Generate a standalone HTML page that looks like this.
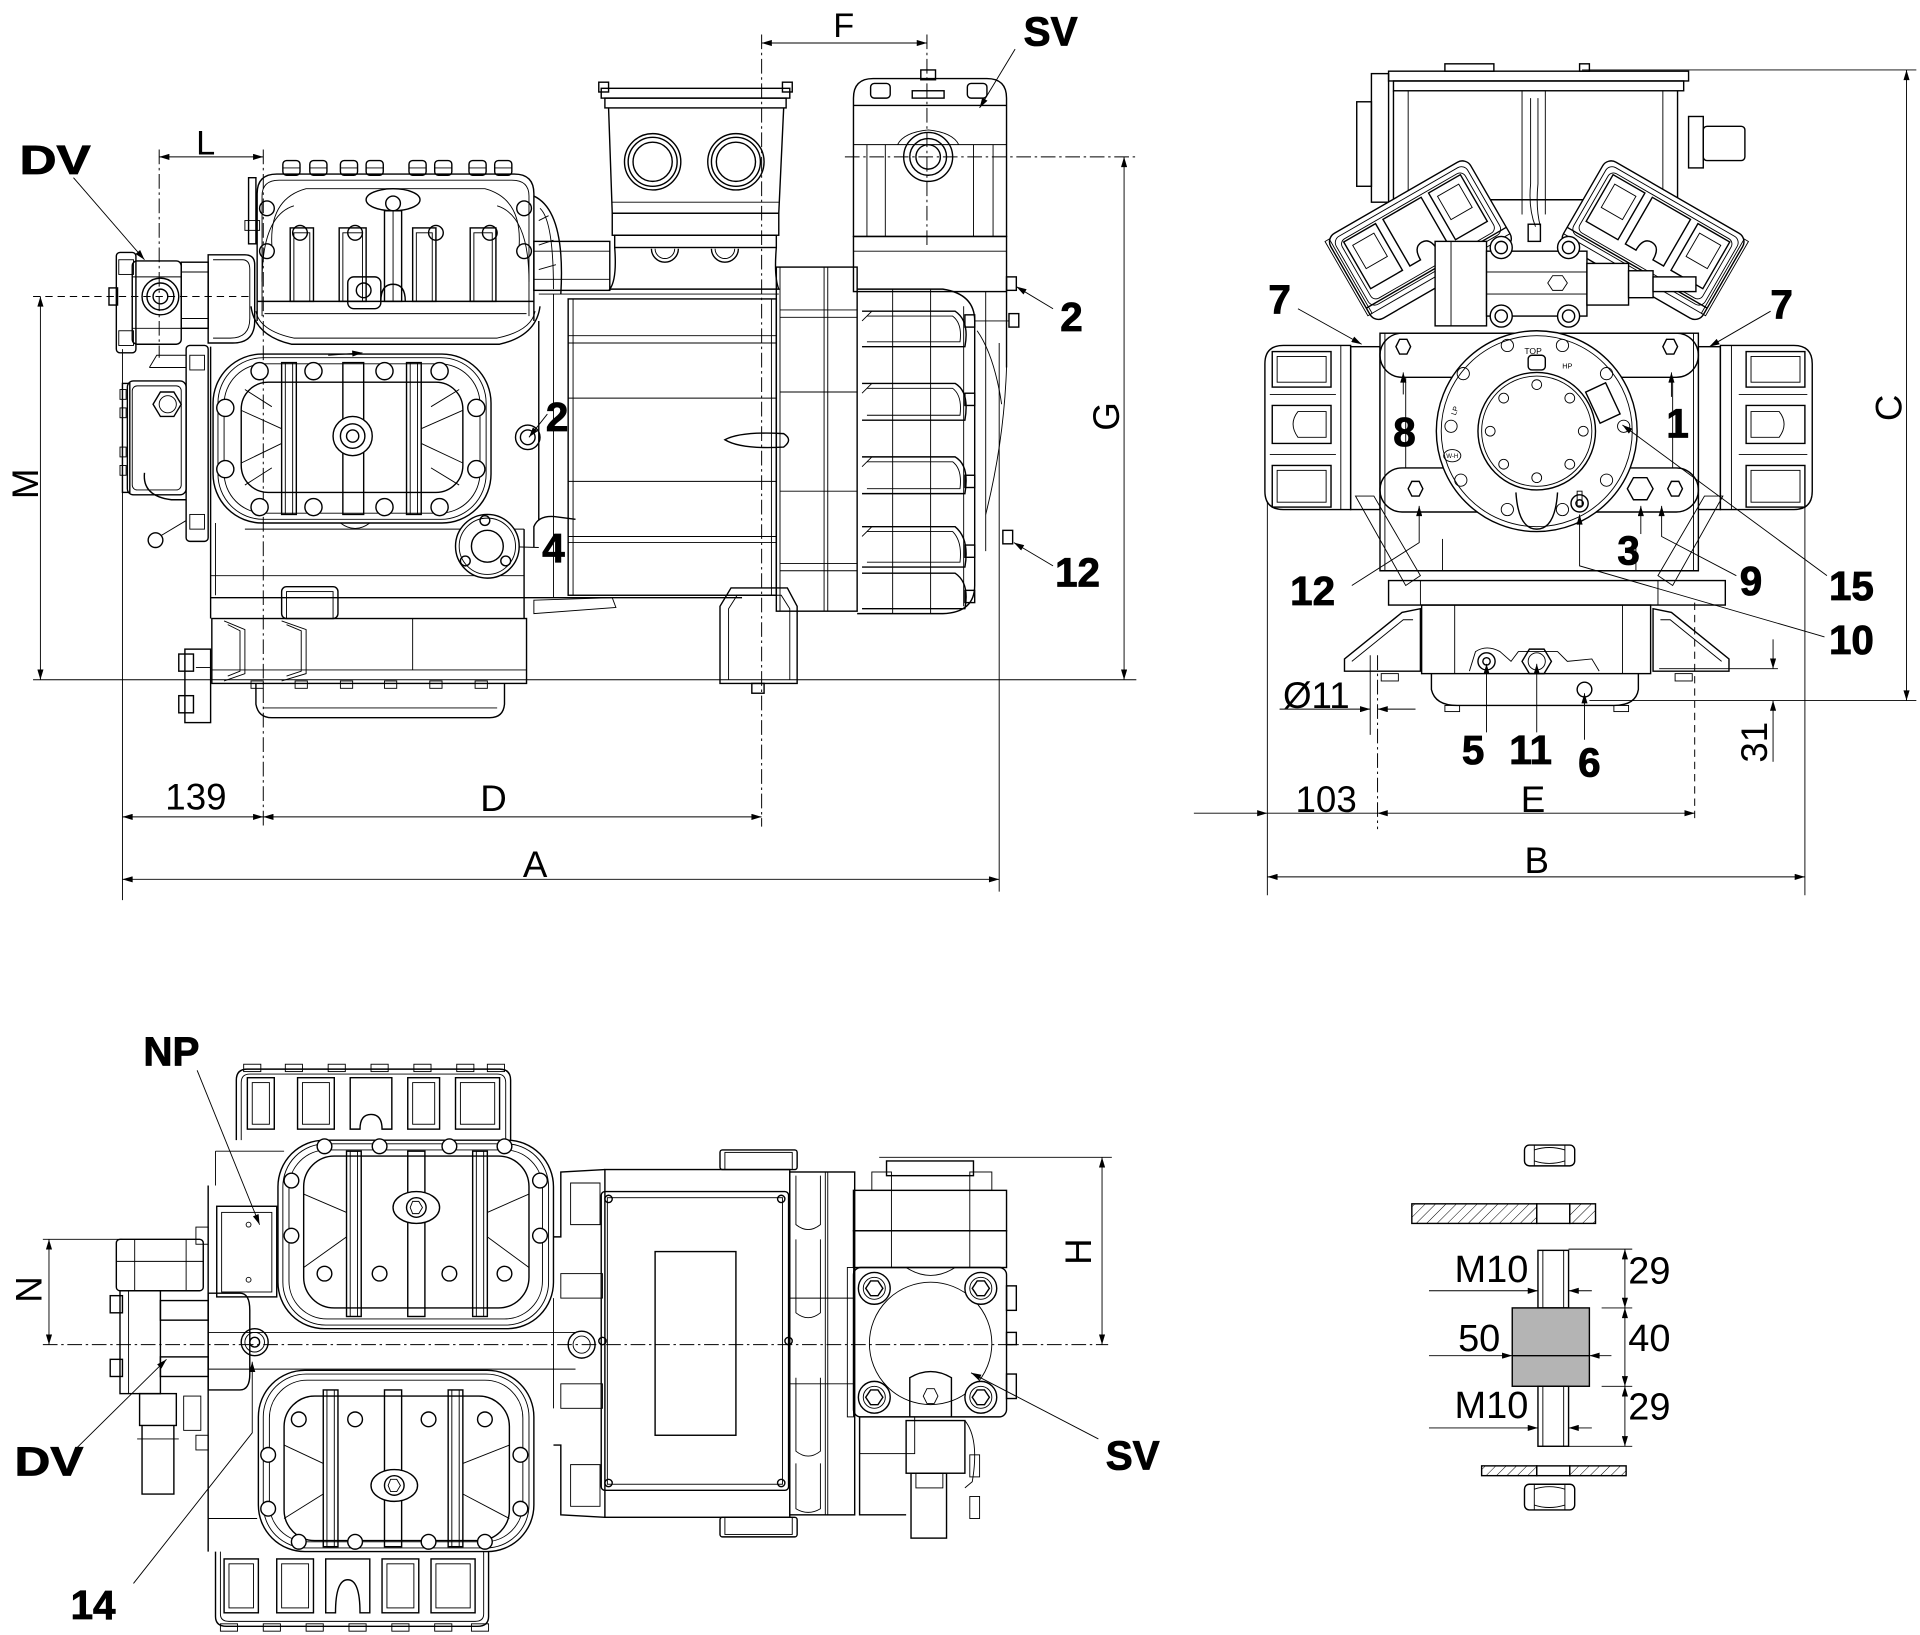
<!DOCTYPE html>
<html><head><meta charset="utf-8">
<style>
html,body{margin:0;padding:0;background:#fff;}
svg{display:block;}
.lb{font-family:"Liberation Sans",Arial,sans-serif;font-weight:bold;font-size:33px;fill:#000;stroke:#000;stroke-width:0.7;text-anchor:middle;}
.dm{font-family:"Liberation Sans",Arial,sans-serif;font-size:30px;fill:#000;stroke:none;text-anchor:middle;}
.tn{font-family:"Liberation Sans",Arial,sans-serif;font-size:7px;fill:#000;stroke:none;text-anchor:middle;}
.t{stroke-width:0.75;}
.dd{stroke-dasharray:12 3 2 3;stroke-width:0.8;}
.ds{stroke-dasharray:6 4;stroke-width:0.8;}
.w{fill:#fff;}
</style></head><body>
<svg width="1920" height="1635" viewBox="0 0 1568 1335" xmlns="http://www.w3.org/2000/svg">
<defs>
<marker id="ar" viewBox="0 0 10 6" refX="10" refY="3" markerWidth="10" markerHeight="5" orient="auto-start-reverse" markerUnits="userSpaceOnUse"><path d="M0,0L10,3L0,6z" fill="#000" stroke="none"/></marker>
<pattern id="h" width="6" height="6" patternUnits="userSpaceOnUse" patternTransform="rotate(45)"><line x1="0" y1="0" x2="0" y2="6" stroke="#000" stroke-width="0.8"/></pattern>
</defs>
<rect width="1568" height="1335" fill="#fff"/>

<g fill="none" stroke="#000" stroke-width="1.15">

<!-- ================= SIDE VIEW ================= -->
<line x1="27" y1="555" x2="928" y2="555" class="t"/>
<line x1="27" y1="242" x2="205" y2="242" class="ds"/>
<line x1="690" y1="128" x2="930" y2="128" class="dd"/>
<line x1="33" y1="242" x2="33" y2="555" marker-start="url(#ar)" marker-end="url(#ar)" class="t"/>
<line x1="918" y1="128" x2="918" y2="555" marker-start="url(#ar)" marker-end="url(#ar)" class="t"/>
<line x1="130" y1="122" x2="130" y2="292" class="dd"/>
<line x1="215" y1="122" x2="215" y2="675" class="dd"/>
<line x1="622" y1="28" x2="622" y2="675" class="dd"/>
<line x1="757" y1="28" x2="757" y2="200" class="dd"/>
<line x1="100" y1="285" x2="100" y2="735" class="t"/>
<line x1="816" y1="280" x2="816" y2="728" class="t"/>
<line x1="130" y1="128" x2="215" y2="128" marker-start="url(#ar)" marker-end="url(#ar)" class="t"/>
<line x1="622" y1="35" x2="757" y2="35" marker-start="url(#ar)" marker-end="url(#ar)" class="t"/>
<line x1="100" y1="667" x2="215" y2="667" marker-start="url(#ar)" marker-end="url(#ar)" class="t"/>
<line x1="215" y1="667" x2="622" y2="667" marker-start="url(#ar)" marker-end="url(#ar)" class="t"/>
<line x1="100" y1="718" x2="816" y2="718" marker-start="url(#ar)" marker-end="url(#ar)" class="t"/>
<line x1="60" y1="145" x2="118" y2="212" class="t" marker-end="url(#ar)"/>
<line x1="829" y1="40" x2="800" y2="88" class="t" marker-end="url(#ar)"/>
<line x1="860" y1="252" x2="830" y2="234" class="t" marker-end="url(#ar)"/>
<line x1="447" y1="338" x2="432" y2="357" class="t" marker-end="url(#ar)"/>
<line x1="440" y1="447" x2="405" y2="446" class="t" marker-end="url(#ar)"/>
<line x1="860" y1="462" x2="828" y2="443" class="t" marker-end="url(#ar)"/>

<!-- DV fitting -->
<rect x="95" y="206" width="16" height="82" rx="3"/>
<rect x="89" y="235" width="7" height="14"/>
<rect x="97" y="212" width="12" height="12" class="t"/>
<rect x="97" y="270" width="12" height="12" class="t"/>
<rect x="108" y="213" width="40" height="68" rx="4"/>
<line x1="108" y1="226" x2="148" y2="226" class="t"/><line x1="108" y1="268" x2="148" y2="268" class="t"/>
<circle cx="131" cy="242" r="15"/><circle cx="131" cy="242" r="11"/><circle cx="131" cy="242" r="6"/>
<rect x="148" y="214" width="22" height="54"/>
<line x1="148" y1="222" x2="170" y2="222" class="t"/>
<line x1="148" y1="260" x2="170" y2="260" class="t"/>
<path d="M170 208 L200 208 Q208 208 208 216 L208 262 Q208 280 190 280 L170 280 Z"/>
<path d="M174 212 L198 212 Q204 212 204 220 L204 260 Q204 276 188 276 L174 276" class="t"/>
<rect x="203" y="145" width="6" height="54"/>
<rect x="200" y="180" width="12" height="8" class="t"/>

<!-- upper cylinder head -->
<path d="M210 262 L210 158 Q210 142 226 142 L420 142 Q436 142 436 158 L436 262"/>
<path d="M214 258 L214 160 Q214 147 228 147 L418 147 Q432 147 432 160 L432 258" class="t"/>
<path d="M205 250 Q208 274 238 281 L408 281 Q438 274 441 250"/>
<path d="M209 254 Q212 270 240 276 L406 276 Q434 270 437 254" class="t"/>
<line x1="210" y1="246" x2="436" y2="246"/>
<line x1="216" y1="256" x2="430" y2="256" class="t"/>
<path d="M222 200 Q220 162 250 154 L396 154 Q426 162 424 200" class="t"/>
<path d="M214 230 Q214 176 240 168" class="t"/><path d="M432 230 Q432 176 406 168" class="t"/>
<g>
<rect x="231" y="131" width="14" height="12" rx="3"/><rect x="253" y="131" width="14" height="12" rx="3"/>
<rect x="278" y="131" width="14" height="12" rx="3"/><rect x="299" y="131" width="14" height="12" rx="3"/>
<rect x="334" y="131" width="14" height="12" rx="3"/><rect x="355" y="131" width="14" height="12" rx="3"/>
<rect x="383" y="131" width="14" height="12" rx="3"/><rect x="404" y="131" width="14" height="12" rx="3"/>
<circle cx="218" cy="170" r="6"/><circle cx="218" cy="205" r="6"/><circle cx="428" cy="170" r="6"/><circle cx="428" cy="205" r="6"/>
<circle cx="245" cy="190" r="6"/><circle cx="290" cy="190" r="6"/><circle cx="356" cy="190" r="6"/><circle cx="400" cy="190" r="6"/>
</g>
<g class="t">
<line x1="231" y1="137" x2="245" y2="137"/><line x1="253" y1="137" x2="267" y2="137"/><line x1="278" y1="137" x2="292" y2="137"/><line x1="299" y1="137" x2="313" y2="137"/>
<line x1="334" y1="137" x2="348" y2="137"/><line x1="355" y1="137" x2="369" y2="137"/><line x1="383" y1="137" x2="397" y2="137"/><line x1="404" y1="137" x2="418" y2="137"/>
</g>
<rect x="237" y="186" width="19" height="60"/><rect x="240" y="190" width="13" height="56" class="t"/>
<rect x="277" y="186" width="22" height="60"/><rect x="280" y="190" width="16" height="56" class="t"/>
<rect x="314" y="172" width="14" height="74"/><line x1="321" y1="172" x2="321" y2="246" class="t"/>
<rect x="337" y="186" width="19" height="60"/><rect x="340" y="190" width="13" height="56" class="t"/>
<rect x="384" y="186" width="21" height="60"/><rect x="387" y="190" width="15" height="56" class="t"/>
<ellipse cx="321" cy="163" rx="22" ry="9"/><circle cx="321" cy="166" r="6"/>
<path d="M311 246 Q311 232 321 232 Q331 232 331 246" />
<path d="M436 160 Q462 172 458 240" />
<path d="M441 170 Q452 180 452 236" class="t"/>
<path d="M440 180 L448 176 M440 200 L452 196 M440 220 L454 216" class="t"/>

<!-- side cylinder head -->
<rect x="174" y="289" width="227" height="138" rx="40"/>
<rect x="178" y="292" width="219" height="132" rx="37" class="t"/>
<rect x="183" y="297" width="209" height="122" rx="33" class="t"/>
<rect x="197" y="312" width="181" height="90" rx="22"/>
<rect x="230" y="296" width="12" height="124"/><rect x="233" y="296" width="6" height="124" class="t"/>
<rect x="280" y="296" width="17" height="124"/>
<rect x="332" y="296" width="12" height="124"/><rect x="335" y="296" width="6" height="124" class="t"/>
<circle cx="288" cy="356" r="16" class="w"/><circle cx="288" cy="356" r="10"/><circle cx="288" cy="356" r="5"/>
<g class="t">
<line x1="197" y1="335" x2="230" y2="350"/><line x1="197" y1="378" x2="230" y2="362"/>
<line x1="378" y1="335" x2="344" y2="350"/><line x1="378" y1="378" x2="344" y2="362"/>
<path d="M200 318 L222 332 M200 396 L222 382 M375 318 L352 332 M375 396 L352 382"/>
</g>
<g>
<circle cx="212" cy="303" r="7" class="w"/><circle cx="256" cy="303" r="7" class="w"/><circle cx="314" cy="303" r="7" class="w"/><circle cx="359" cy="303" r="7" class="w"/>
<circle cx="184" cy="333" r="7" class="w"/><circle cx="184" cy="383" r="7" class="w"/><circle cx="389" cy="333" r="7" class="w"/><circle cx="389" cy="383" r="7" class="w"/>
<circle cx="212" cy="414" r="7" class="w"/><circle cx="256" cy="414" r="7" class="w"/><circle cx="314" cy="414" r="7" class="w"/><circle cx="359" cy="414" r="7" class="w"/>
</g>
<rect x="284" y="226" width="27" height="26" rx="5"/><circle cx="297" cy="237" r="6"/>
<line x1="268" y1="290" x2="296" y2="288" class="t" marker-end="url(#ar)"/>
<path d="M278 427 Q290 436 302 427" class="t"/>

<!-- crankcase -->
<line x1="172" y1="283" x2="172" y2="505"/>
<line x1="176" y1="427" x2="176" y2="486" class="t"/>
<line x1="200" y1="432" x2="428" y2="432" class="t"/>
<line x1="172" y1="470" x2="428" y2="470" class="t"/>
<line x1="172" y1="488" x2="606" y2="488"/>
<line x1="428" y1="432" x2="428" y2="505"/>
<line x1="440" y1="262" x2="440" y2="425"/>
<line x1="452" y1="240" x2="452" y2="488" class="t"/>
<path d="M436 447 L436 430 Q440 420 455 422 L470 424"/>
<path d="M436 490 L500 488 L503 496 L436 501 Z" class="t"/>
<circle cx="431" cy="357" r="10"/><circle cx="431" cy="357" r="6"/>
<circle cx="398" cy="446" r="26" class="w"/><circle cx="398" cy="446" r="23" class="t"/><circle cx="398" cy="446" r="13"/>
<circle cx="396" cy="425" r="4"/><circle cx="380" cy="458" r="4"/><circle cx="413" cy="458" r="4"/>
<!-- sump -->
<rect x="173" y="505" width="257" height="53"/>
<rect x="230" y="479" width="46" height="26" rx="4"/><rect x="234" y="483" width="38" height="22" class="t"/>
<path d="M183 507 L200 514 L200 550 L183 556" class="t"/><path d="M186 510 L196 515 L196 548 L186 552" class="t"/>
<path d="M230 507 L250 514 L250 550 L230 556" class="t"/><path d="M234 510 L246 515 L246 548 L234 552" class="t"/>
<line x1="173" y1="547" x2="430" y2="547" class="t"/>
<line x1="337" y1="505" x2="337" y2="547" class="t"/>
<path d="M209 558 L209 575 Q211 586 222 586 L400 586 Q411 586 412 575 L412 558"/>
<line x1="215" y1="578" x2="406" y2="578" class="t"/>
<g class="t"><rect x="205" y="556" width="10" height="6"/><rect x="241" y="556" width="10" height="6"/><rect x="278" y="556" width="10" height="6"/><rect x="314" y="556" width="10" height="6"/><rect x="351" y="556" width="10" height="6"/><rect x="388" y="556" width="10" height="6"/></g>
<rect x="151" y="530" width="21" height="60"/>
<rect x="146" y="534" width="12" height="14"/><rect x="146" y="568" width="12" height="14"/>
<line x1="160" y1="545" x2="172" y2="545" class="t"/>

<!-- oil pump -->
<rect x="152" y="282" width="18" height="160" rx="3"/>
<rect x="155" y="290" width="12" height="12" class="t"/><rect x="155" y="420" width="12" height="12" class="t"/>
<rect x="104" y="311" width="48" height="93" rx="5"/>
<rect x="108" y="315" width="40" height="85" rx="4" class="t"/>
<rect x="100" y="313" width="6" height="89"/>
<g class="t"><rect x="98" y="318" width="5" height="8"/><rect x="98" y="333" width="5" height="8"/><rect x="98" y="365" width="5" height="8"/><rect x="98" y="380" width="5" height="8"/></g>
<polygon points="148,330 142,340 131,340 125,330 131,320 142,320"/><circle cx="137" cy="330" r="7" class="t"/>
<path d="M118 386 Q116 405 140 408 L152 408"/>
<path d="M122 300 L152 300 M122 300 L128 290 L152 290" class="t"/>
<circle cx="127" cy="441" r="6"/>
<line x1="132" y1="437" x2="152" y2="425" class="t"/>

<!-- motor section -->
<rect x="436" y="197" width="62" height="40"/>
<line x1="436" y1="205" x2="498" y2="205" class="t"/>
<line x1="436" y1="228" x2="498" y2="228" class="t"/>
<rect x="464" y="244" width="170" height="242"/>
<g class="t">
<line x1="464" y1="274" x2="634" y2="274"/><line x1="464" y1="280" x2="634" y2="280"/>
<line x1="464" y1="325" x2="634" y2="325"/><line x1="464" y1="393" x2="634" y2="393"/>
<line x1="464" y1="438" x2="634" y2="438"/><line x1="464" y1="443" x2="634" y2="443"/>
<line x1="468" y1="244" x2="468" y2="486"/><line x1="630" y1="244" x2="630" y2="486"/>
</g>
<path d="M592 359 Q605 352 640 354 Q648 359 640 365 Q605 367 592 359 Z"/>
<!-- terminal box side -->
<rect x="489" y="67" width="8" height="8"/><rect x="639" y="67" width="8" height="8"/>
<rect x="491" y="72" width="154" height="8"/>
<rect x="494" y="80" width="148" height="8"/>
<path d="M497 88 L500 174 L636 174 L640 88"/>
<circle cx="533" cy="132" r="23"/><circle cx="533" cy="132" r="20"/><circle cx="533" cy="132" r="16"/>
<circle cx="601" cy="132" r="23"/><circle cx="601" cy="132" r="20"/><circle cx="601" cy="132" r="16"/>
<line x1="500" y1="165" x2="636" y2="165" class="t"/>
<rect x="500" y="174" width="136" height="18"/>
<rect x="502" y="192" width="132" height="10"/>
<path d="M532 203 A11 11 0 0 0 554 203" /><path d="M535 203 A8 8 0 0 0 551 203" class="t"/>
<path d="M581 203 A11 11 0 0 0 603 203" /><path d="M584 203 A8 8 0 0 0 600 203" class="t"/>
<path d="M502 202 Q504 228 498 236 L636 236 Q632 226 634 202"/>
<line x1="440" y1="240" x2="636" y2="240" class="t"/>
<!-- flange -->
<rect x="634" y="218" width="66" height="281"/>
<g class="t">
<line x1="637" y1="218" x2="637" y2="499"/><line x1="673" y1="218" x2="673" y2="499"/><line x1="676" y1="218" x2="676" y2="499"/>
<line x1="637" y1="253" x2="700" y2="253"/><line x1="637" y1="259" x2="700" y2="259"/><line x1="637" y1="320" x2="700" y2="320"/>
<line x1="637" y1="401" x2="700" y2="401"/><line x1="637" y1="460" x2="700" y2="460"/><line x1="637" y1="466" x2="700" y2="466"/>
</g>
<!-- end cover with fins -->
<path d="M700 236 L770 236 Q796 240 796 262 L796 478 Q796 500 770 501 L700 501"/>
<g>
<path d="M704 254 L780 254 Q792 262 788 283 L704 283"/>
<path d="M704 313 L780 313 Q792 320 788 343 L704 343"/>
<path d="M704 373 L780 373 Q792 380 788 403 L704 403"/>
<path d="M704 430 L780 430 Q792 440 788 463 L704 463"/>
<path d="M704 468 L780 468 Q792 476 788 497 L704 497"/>
</g>
<g class="t">
<path d="M708 258 L778 258 Q786 264 784 279 L708 279"/>
<path d="M708 317 L778 317 Q786 323 784 339 L708 339"/>
<path d="M708 377 L778 377 Q786 383 784 399 L708 399"/>
<path d="M708 434 L778 434 Q786 442 784 459 L708 459"/>
<line x1="729" y1="236" x2="729" y2="501"/><line x1="760" y1="236" x2="760" y2="501"/><line x1="787" y1="250" x2="787" y2="495"/>
<path d="M704 262 L712 254 M704 321 L712 313 M704 381 L712 373 M704 438 L712 430"/>
</g>
<g><rect x="788" y="257" width="8" height="10"/><rect x="788" y="321" width="8" height="10"/><rect x="788" y="388" width="8" height="10"/><rect x="788" y="445" width="8" height="10"/><rect x="788" y="482" width="8" height="10"/></g>
<!-- SV block side -->
<path d="M697 193 L697 80 Q697 64 713 64 L806 64 Q822 64 822 80 L822 193 Z"/>
<line x1="697" y1="86" x2="822" y2="86"/>
<line x1="697" y1="118" x2="822" y2="118" class="t"/>
<circle cx="758" cy="128" r="20"/><circle cx="758" cy="128" r="15"/><circle cx="758" cy="128" r="10"/>
<path d="M733 118 Q738 108 758 106 Q778 108 783 118" class="t"/>
<g class="t"><line x1="708" y1="118" x2="708" y2="193"/><line x1="723" y1="118" x2="723" y2="193"/><line x1="795" y1="118" x2="795" y2="193"/><line x1="811" y1="118" x2="811" y2="193"/></g>
<rect x="752" y="57" width="12" height="8"/><rect x="745" y="74" width="26" height="6"/>
<rect x="711" y="68" width="16" height="12" rx="3"/><rect x="790" y="68" width="16" height="12" rx="3"/>
<rect x="697" y="193" width="125" height="45"/>
<line x1="697" y1="205" x2="822" y2="205" class="t"/>
<line x1="805" y1="238" x2="805" y2="450" class="t"/>
<line x1="822" y1="238" x2="822" y2="300"/>
<path d="M822 300 Q820 360 805 420" class="t"/>
<path d="M798 270 Q812 290 818 330" class="t"/>
<rect x="822" y="226" width="8" height="11"/><rect x="824" y="256" width="8" height="11"/><rect x="819" y="433" width="8" height="11"/>
<line x1="796" y1="262" x2="824" y2="262" class="t"/>
<!-- foot -->
<path d="M588 558 L588 495 L597 480 L643 480 L651 495 L651 558 Z"/>
<path d="M595 555 L595 497 L602 486 L638 486 L645 497 L645 555" class="t"/>
<rect x="614" y="558" width="10" height="8"/>

<!-- ================= END VIEW ================= -->
<line x1="1292" y1="57" x2="1565" y2="57" class="t"/>
<line x1="1298" y1="572" x2="1565" y2="572" class="t"/>
<line x1="1557" y1="57" x2="1557" y2="572" marker-start="url(#ar)" marker-end="url(#ar)" class="t"/>
<line x1="1035" y1="403" x2="1035" y2="731" class="t"/>
<line x1="1474" y1="408" x2="1474" y2="731" class="t"/>
<line x1="1035" y1="716" x2="1474" y2="716" marker-start="url(#ar)" marker-end="url(#ar)" class="t"/>
<line x1="975" y1="664" x2="1035" y2="664" marker-end="url(#ar)" class="t"/>
<line x1="1035" y1="664" x2="1125" y2="664" class="t"/>
<line x1="1125" y1="664" x2="1384" y2="664" marker-start="url(#ar)" marker-end="url(#ar)" class="t"/>
<line x1="1125" y1="535" x2="1125" y2="677" class="dd"/>
<line x1="1119" y1="535" x2="1119" y2="600" class="t"/>
<line x1="1384" y1="492" x2="1384" y2="668" class="ds"/>
<line x1="1045" y1="579" x2="1119" y2="579" marker-end="url(#ar)" class="t"/>
<line x1="1156" y1="579" x2="1125" y2="579" marker-end="url(#ar)" class="t"/>
<line x1="1355" y1="546" x2="1452" y2="546" class="t"/>
<line x1="1448" y1="522" x2="1448" y2="546" marker-end="url(#ar)" class="t"/>
<line x1="1448" y1="622" x2="1448" y2="572" marker-end="url(#ar)" class="t"/>
<!-- terminal box end -->
<rect x="1108" y="83" width="12" height="69"/>
<rect x="1120" y="60" width="14" height="105"/>
<rect x="1180" y="52" width="40" height="6"/><rect x="1290" y="52" width="8" height="6"/>
<rect x="1134" y="58" width="245" height="8"/>
<rect x="1138" y="66" width="237" height="8"/>
<path d="M1138 74 L1138 163 L1370 163 L1370 74" />
<line x1="1150" y1="74" x2="1150" y2="163" class="t"/><line x1="1358" y1="74" x2="1358" y2="163" class="t"/>
<line x1="1243" y1="74" x2="1243" y2="175" class="t"/><line x1="1262" y1="74" x2="1262" y2="175" class="t"/>
<path d="M1250 80 L1250 150 Q1248 170 1254 185" class="t"/><path d="M1256 80 L1256 150 Q1254 170 1258 185" class="t"/>
<rect x="1379" y="95" width="12" height="42"/><rect x="1391" y="103" width="34" height="28" rx="3"/>
<!-- angled heads -->
<g transform="translate(1160,196) rotate(-30)">
<rect x="-66" y="-40" width="132" height="80" rx="8" class="w"/>
<rect x="-62" y="-36" width="124" height="64" rx="6" class="t"/>
<rect x="-58" y="-32" width="116" height="56" rx="5" class="t"/>
<line x1="-66" y1="26" x2="66" y2="26"/>
<line x1="-66" y1="32" x2="66" y2="32" class="t"/>
<rect x="-55" y="-30" width="30" height="44"/><rect x="-50" y="-24" width="20" height="22" class="t"/>
<path d="M-18 -30 L18 -30 L18 14 L8 14 Q8 2 0 2 Q-8 2 -8 14 L-18 14 Z"/>
<rect x="25" y="-30" width="30" height="44"/><rect x="30" y="-24" width="20" height="22" class="t"/>
<rect x="-68" y="-38" width="4" height="70" class="t"/>
</g>
<g transform="translate(1350,196) rotate(30)">
<rect x="-66" y="-40" width="132" height="80" rx="8" class="w"/>
<rect x="-62" y="-36" width="124" height="64" rx="6" class="t"/>
<rect x="-58" y="-32" width="116" height="56" rx="5" class="t"/>
<line x1="-66" y1="26" x2="66" y2="26"/>
<line x1="-66" y1="32" x2="66" y2="32" class="t"/>
<rect x="-55" y="-30" width="30" height="44"/><rect x="-50" y="-24" width="20" height="22" class="t"/>
<path d="M-18 -30 L18 -30 L18 14 L8 14 Q8 2 0 2 Q-8 2 -8 14 L-18 14 Z"/>
<rect x="25" y="-30" width="30" height="44"/><rect x="30" y="-24" width="20" height="22" class="t"/>
<rect x="64" y="-38" width="4" height="70" class="t"/>
</g>
<!-- valve block -->
<rect x="1172" y="197" width="42" height="69" class="w"/>
<line x1="1185" y1="197" x2="1185" y2="266" class="t"/>
<rect x="1214" y="205" width="82" height="53" class="w"/>
<rect x="1214" y="222" width="82" height="18" class="t"/>
<circle cx="1226" cy="202" r="9" class="w"/><circle cx="1226" cy="202" r="5"/>
<circle cx="1281" cy="202" r="9" class="w"/><circle cx="1281" cy="202" r="5"/>
<circle cx="1226" cy="258" r="9" class="w"/><circle cx="1226" cy="258" r="5"/>
<circle cx="1281" cy="258" r="9" class="w"/><circle cx="1281" cy="258" r="5"/>
<polygon points="1280,231 1276,237 1268,237 1264,231 1268,225 1276,225" class="t"/>
<rect x="1296" y="215" width="34" height="34" class="w"/>
<rect x="1330" y="221" width="20" height="22" class="w"/>
<rect x="1350" y="226" width="35" height="12" class="w"/>
<rect x="1248" y="183" width="10" height="14"/>
<!-- body plate -->
<rect x="1103" y="283" width="24" height="133" class="w"/>
<rect x="1387" y="283" width="18" height="133" class="w"/>
<rect x="1127" y="272" width="260" height="194" class="w"/>
<rect x="1127" y="272" width="260" height="36" rx="18"/>
<rect x="1127" y="382" width="260" height="36" rx="18"/>
<line x1="1148" y1="308" x2="1148" y2="382" class="t"/><line x1="1366" y1="308" x2="1366" y2="382" class="t"/>
<line x1="1131" y1="272" x2="1131" y2="466" class="t"/><line x1="1383" y1="272" x2="1383" y2="466" class="t"/>
<polygon points="1152,283 1149,289 1143,289 1140,283 1143,277 1149,277" />
<polygon points="1370,283 1367,289 1361,289 1358,283 1361,277 1367,277" />
<polygon points="1162,399 1159,405 1153,405 1150,399 1153,393 1159,393" />
<polygon points="1374,399 1371,405 1365,405 1362,399 1365,393 1371,393" />
<polygon points="1350,399 1345,408 1334,408 1329,399 1334,390 1345,390" />
<!-- side heads -->
<path d="M1103 282 L1048 282 Q1033 282 1033 297 L1033 401 Q1033 416 1048 416 L1103 416 Z" class="w"/>
<rect x="1039" y="287" width="48" height="29"/><rect x="1043" y="291" width="40" height="21" class="t"/>
<path d="M1039 331 L1087 331 L1087 362 L1039 362 Z"/><path d="M1060 336 L1083 336 L1083 357 L1060 357 Q1052 346 1060 336 Z" class="t"/>
<rect x="1039" y="380" width="48" height="34"/><rect x="1043" y="384" width="40" height="26" class="t"/>
<line x1="1095" y1="282" x2="1095" y2="416" class="t"/>
<line x1="1037" y1="322" x2="1091" y2="322" class="t"/><line x1="1037" y1="371" x2="1091" y2="371" class="t"/>
<path d="M1405 282 L1465 282 Q1480 282 1480 297 L1480 401 Q1480 416 1465 416 L1405 416 Z" class="w"/>
<rect x="1426" y="287" width="48" height="29"/><rect x="1430" y="291" width="40" height="21" class="t"/>
<path d="M1426 331 L1474 331 L1474 362 L1426 362 Z"/><path d="M1453 336 L1430 336 L1430 357 L1453 357 Q1461 346 1453 336 Z" class="t"/>
<rect x="1426" y="380" width="48" height="34"/><rect x="1430" y="384" width="40" height="26" class="t"/>
<line x1="1414" y1="282" x2="1414" y2="416" class="t"/>
<line x1="1420" y1="322" x2="1476" y2="322" class="t"/><line x1="1420" y1="371" x2="1476" y2="371" class="t"/>
<!-- flange disc -->
<circle cx="1255" cy="352" r="82" class="w"/>
<circle cx="1255" cy="352" r="78" class="t"/>
<circle cx="1255" cy="352" r="48"/><circle cx="1255" cy="352" r="45" class="t"/>
<g class="t">
<circle cx="1231" cy="282" r="5"/><circle cx="1276" cy="282" r="5"/><circle cx="1195" cy="305" r="5"/><circle cx="1312" cy="305" r="5"/>
<circle cx="1185" cy="348" r="5"/><circle cx="1326" cy="348" r="5"/><circle cx="1193" cy="392" r="5"/><circle cx="1312" cy="392" r="5"/>
<circle cx="1231" cy="416" r="5"/><circle cx="1276" cy="416" r="5"/>
<circle cx="1255" cy="314" r="4"/><circle cx="1282" cy="325" r="4"/><circle cx="1293" cy="352" r="4"/><circle cx="1282" cy="379" r="4"/>
<circle cx="1255" cy="390" r="4"/><circle cx="1228" cy="379" r="4"/><circle cx="1217" cy="352" r="4"/><circle cx="1228" cy="325" r="4"/>
</g>
<rect x="1248" y="290" width="14" height="12" rx="3"/>
<rect x="1300" y="315" width="18" height="28" transform="rotate(-25 1309 329)"/>
<path d="M1238 402 Q1240 432 1255 432 Q1270 432 1272 402" />
<circle cx="1290" cy="411" r="7"/><circle cx="1290" cy="411" r="3"/>
<rect x="1288" y="401" width="4" height="12" class="t"/>
<text x="1252" y="289" class="tn">TOP</text>
<text x="1280" y="301" class="tn" style="font-size:6px">HP</text>
<text x="1190" y="336" class="tn" style="font-size:6px" transform="rotate(-70 1190 336)">LP</text>
<ellipse cx="1186" cy="372" rx="7" ry="5" class="t"/>
<text x="1186" y="374" class="tn" style="font-size:5px">W-H</text>
<!-- lower structure -->
<line x1="1127" y1="466" x2="1387" y2="466"/>
<path d="M1107 405 L1122 405 L1160 470 L1148 478 Z" class="t"/>
<path d="M1407 405 L1392 405 L1354 470 L1366 478 Z" class="t"/>
<rect x="1134" y="474" width="275" height="20"/>
<line x1="1160" y1="474" x2="1160" y2="494" class="t"/><line x1="1354" y1="474" x2="1354" y2="494" class="t"/>
<line x1="1178" y1="440" x2="1178" y2="466" class="t"/><line x1="1336" y1="440" x2="1336" y2="466" class="t"/>
<rect x="1161" y="494" width="187" height="56"/>
<line x1="1188" y1="494" x2="1188" y2="550" class="t"/><line x1="1325" y1="494" x2="1325" y2="550" class="t"/>
<path d="M1098 548 L1098 538 L1145 500 L1160 497 L1160 548 Z"/>
<path d="M1104 540 L1146 506 L1154 506" class="t"/>
<path d="M1412 548 L1412 538 L1365 500 L1350 497 L1350 548 Z"/>
<path d="M1406 540 L1364 506 L1356 506" class="t"/>
<path d="M1169 550 L1169 563 Q1172 576 1190 576 L1318 576 Q1336 576 1338 563 L1338 550"/>
<path d="M1200 548 L1205 532 Q1214 526 1225 532 L1234 540 L1240 532 L1272 532 L1280 540 L1300 538 L1306 548" class="t"/>
<circle cx="1214" cy="540" r="7"/><circle cx="1214" cy="540" r="3"/>
<polygon points="1267,540 1261,550 1249,550 1243,540 1249,530 1261,530"/><circle cx="1255" cy="540" r="7" class="t"/>
<circle cx="1294" cy="563" r="6"/>
<g class="t"><rect x="1128" y="550" width="14" height="6"/><rect x="1368" y="550" width="14" height="6"/><rect x="1180" y="576" width="12" height="5"/><rect x="1318" y="576" width="12" height="5"/></g>
<line x1="1060" y1="252" x2="1112" y2="281" class="t" marker-end="url(#ar)"/>
<line x1="1446" y1="254" x2="1396" y2="283" class="t" marker-end="url(#ar)"/>
<line x1="1146" y1="322" x2="1146" y2="304" class="t" marker-end="url(#ar)"/>
<line x1="1365" y1="324" x2="1365" y2="304" class="t" marker-end="url(#ar)"/>
<polyline points="1104,478 1159,443 1159,413" class="t" marker-end="url(#ar)"/>
<line x1="1340" y1="436" x2="1340" y2="413" class="t" marker-end="url(#ar)"/>
<polyline points="1418,470 1357,438 1357,413" class="t" marker-end="url(#ar)"/>
<line x1="1492" y1="470" x2="1325" y2="347" class="t" marker-end="url(#ar)"/>
<polyline points="1490,520 1290,462 1290,420" class="t" marker-end="url(#ar)"/>
<line x1="1214" y1="598" x2="1214" y2="542" class="t" marker-end="url(#ar)"/>
<line x1="1255" y1="598" x2="1255" y2="542" class="t" marker-end="url(#ar)"/>
<line x1="1294" y1="604" x2="1294" y2="566" class="t" marker-end="url(#ar)"/>

<!-- ================= BOTTOM VIEW ================= -->
<line x1="35" y1="1098" x2="905" y2="1098" class="dd"/>
<line x1="35" y1="1012" x2="100" y2="1012" class="t"/>
<line x1="718" y1="945" x2="908" y2="945" class="t"/>
<line x1="40" y1="1012" x2="40" y2="1098" marker-start="url(#ar)" marker-end="url(#ar)" class="t"/>
<line x1="900" y1="945" x2="900" y2="1098" marker-start="url(#ar)" marker-end="url(#ar)" class="t"/>
<line x1="161" y1="874" x2="212" y2="1000" class="t" marker-end="url(#ar)"/>
<line x1="61" y1="1184" x2="136" y2="1110" class="t" marker-end="url(#ar)"/>
<polyline points="109,1293 206,1170 206,1112" class="t" marker-end="url(#ar)"/>
<line x1="897" y1="1175" x2="793" y2="1121" class="t" marker-end="url(#ar)"/>

<!-- far heads -->
<path d="M193 931 L193 882 Q193 873 202 873 L408 873 Q417 873 417 882 L417 931"/>
<path d="M197 931 L197 884 Q197 877 204 877 L406 877 Q413 877 413 884 L413 931" class="t"/>
<g class="t">
<rect x="199" y="869" width="14" height="6"/><rect x="233" y="869" width="14" height="6"/><rect x="268" y="869" width="14" height="6"/><rect x="303" y="869" width="14" height="6"/><rect x="338" y="869" width="14" height="6"/><rect x="373" y="869" width="14" height="6"/><rect x="398" y="869" width="14" height="6"/>
</g>
<rect x="202" y="880" width="22" height="42"/><rect x="206" y="884" width="14" height="34" class="t"/>
<rect x="243" y="880" width="30" height="42"/><rect x="247" y="884" width="22" height="34" class="t"/>
<path d="M286 880 L320 880 L320 922 L312 922 Q312 910 303 910 Q294 910 294 922 L286 922 Z"/>
<rect x="333" y="880" width="26" height="42"/><rect x="337" y="884" width="18" height="34" class="t"/>
<rect x="372" y="880" width="36" height="42"/><rect x="376" y="884" width="28" height="34" class="t"/>
<path d="M176 1267 L176 1320 Q176 1328 185 1328 L390 1328 Q399 1328 399 1320 L399 1267"/>
<path d="M180 1267 L180 1318 Q180 1324 187 1324 L388 1324 Q395 1324 395 1318 L395 1267" class="t"/>
<g class="t">
<rect x="180" y="1326" width="14" height="6"/><rect x="215" y="1326" width="14" height="6"/><rect x="250" y="1326" width="14" height="6"/><rect x="285" y="1326" width="14" height="6"/><rect x="320" y="1326" width="14" height="6"/><rect x="355" y="1326" width="14" height="6"/><rect x="385" y="1326" width="14" height="6"/>
</g>
<rect x="183" y="1273" width="28" height="44"/><rect x="187" y="1277" width="20" height="36" class="t"/>
<rect x="226" y="1273" width="30" height="44"/><rect x="230" y="1277" width="22" height="36" class="t"/>
<path d="M266 1273 L302 1273 L302 1317 L294 1317 Q294 1290 284 1290 Q274 1290 274 1317 L266 1317 Z"/>
<rect x="312" y="1273" width="30" height="44"/><rect x="316" y="1277" width="22" height="36" class="t"/>
<rect x="352" y="1273" width="36" height="44"/><rect x="356" y="1277" width="28" height="36" class="t"/>
<!-- crankcase plan -->
<line x1="170" y1="968" x2="170" y2="1267"/>
<line x1="176" y1="940" x2="176" y2="968" class="t"/>
<line x1="176" y1="940" x2="232" y2="940" class="t"/>
<line x1="170" y1="1088" x2="470" y2="1088" class="t"/>
<line x1="170" y1="1118" x2="470" y2="1118" class="t"/>
<line x1="170" y1="1240" x2="210" y2="1240" class="t"/>
<line x1="452" y1="1060" x2="452" y2="1150" class="t"/>
<rect x="177" y="985" width="49" height="74"/><rect x="181" y="990" width="41" height="65" class="t"/>
<circle cx="203" cy="1000" r="2" class="t"/><circle cx="203" cy="1045" r="2" class="t"/>
<circle cx="208" cy="1096" r="11"/><circle cx="208" cy="1096" r="8" class="t"/><circle cx="208" cy="1096" r="4"/>
<!-- DV block plan -->
<rect x="95" y="1012" width="71" height="42" rx="3"/>
<line x1="95" y1="1030" x2="166" y2="1030" class="t"/><line x1="110" y1="1012" x2="110" y2="1054" class="t"/><line x1="152" y1="1012" x2="152" y2="1054" class="t"/>
<rect x="98" y="1054" width="33" height="84"/>
<rect x="90" y="1058" width="10" height="14"/><rect x="90" y="1110" width="10" height="14"/>
<line x1="105" y1="1054" x2="105" y2="1138" class="t"/>
<rect x="131" y="1062" width="39" height="16"/><rect x="131" y="1108" width="39" height="16"/>
<path d="M170 1056 L196 1056 Q204 1056 204 1070 L204 1122 Q204 1135 196 1135 L170 1135 Z"/>
<rect x="114" y="1138" width="30" height="26"/>
<path d="M116 1164 L116 1220 L142 1220 L142 1164" />
<line x1="112" y1="1175" x2="146" y2="1175" class="t"/>
<rect x="150" y="1140" width="14" height="28" class="t"/>
<rect x="160" y="1172" width="10" height="12" class="t"/>
<rect x="160" y="1002" width="10" height="14" class="t"/>
<!-- upper head plan -->
<rect x="227" y="931" width="225" height="154" rx="38" class="w"/>
<rect x="231" y="934" width="217" height="148" rx="35" class="t"/>
<rect x="236" y="939" width="207" height="138" rx="31" class="t"/>
<rect x="248" y="944" width="184" height="124" rx="25"/>
<rect x="283" y="940" width="12" height="135"/><rect x="286" y="940" width="6" height="135" class="t"/>
<rect x="333" y="940" width="14" height="135"/>
<rect x="386" y="940" width="12" height="135"/><rect x="389" y="940" width="6" height="135" class="t"/>
<ellipse cx="340" cy="986" rx="19" ry="13" class="w"/><circle cx="340" cy="986" r="8"/><polygon points="345,986 342,991 337,991 335,986 337,981 342,981" class="t"/>
<g class="t"><line x1="248" y1="975" x2="283" y2="990"/><line x1="248" y1="1035" x2="283" y2="1010"/><line x1="432" y1="975" x2="398" y2="990"/><line x1="432" y1="1035" x2="398" y2="1010"/></g>
<g>
<circle cx="265" cy="936" r="6" class="w"/><circle cx="310" cy="936" r="6" class="w"/><circle cx="367" cy="936" r="6" class="w"/><circle cx="412" cy="936" r="6" class="w"/>
<circle cx="238" cy="964" r="6" class="w"/><circle cx="238" cy="1009" r="6" class="w"/><circle cx="441" cy="964" r="6" class="w"/><circle cx="441" cy="1009" r="6" class="w"/>
<circle cx="265" cy="1040" r="6" class="w"/><circle cx="310" cy="1040" r="6" class="w"/><circle cx="367" cy="1040" r="6" class="w"/><circle cx="412" cy="1040" r="6" class="w"/>
</g>
<!-- lower head plan -->
<rect x="211" y="1119" width="225" height="148" rx="38" class="w"/>
<rect x="215" y="1122" width="217" height="142" rx="35" class="t"/>
<rect x="220" y="1127" width="207" height="132" rx="31" class="t"/>
<rect x="232" y="1140" width="184" height="118" rx="25"/>
<rect x="264" y="1135" width="12" height="128"/><rect x="267" y="1135" width="6" height="128" class="t"/>
<rect x="314" y="1135" width="14" height="128"/>
<rect x="366" y="1135" width="12" height="128"/><rect x="369" y="1135" width="6" height="128" class="t"/>
<ellipse cx="322" cy="1213" rx="19" ry="13" class="w"/><circle cx="322" cy="1213" r="8"/><polygon points="327,1213 324,1218 319,1218 317,1213 319,1208 324,1208" class="t"/>
<g class="t"><line x1="232" y1="1180" x2="264" y2="1195"/><line x1="232" y1="1240" x2="264" y2="1220"/><line x1="416" y1="1180" x2="378" y2="1195"/><line x1="416" y1="1240" x2="378" y2="1220"/></g>
<g>
<circle cx="244" cy="1159" r="6" class="w"/><circle cx="290" cy="1159" r="6" class="w"/><circle cx="350" cy="1159" r="6" class="w"/><circle cx="396" cy="1159" r="6" class="w"/>
<circle cx="219" cy="1188" r="6" class="w"/><circle cx="219" cy="1232" r="6" class="w"/><circle cx="425" cy="1188" r="6" class="w"/><circle cx="425" cy="1232" r="6" class="w"/>
<circle cx="244" cy="1259" r="6" class="w"/><circle cx="290" cy="1259" r="6" class="w"/><circle cx="350" cy="1259" r="6" class="w"/><circle cx="396" cy="1259" r="6" class="w"/>
</g>
<!-- motor plan -->
<path d="M452 1010 L458 1010 L458 957 L494 955 M452 1180 L458 1180 L458 1237 L494 1239" />
<rect x="458" y="1040" width="34" height="20" class="t"/><rect x="458" y="1130" width="34" height="20" class="t"/>
<circle cx="475" cy="1098" r="11"/><circle cx="475" cy="1098" r="7" class="t"/>
<path d="M466 966 L490 966 L490 1000 L466 1000 Z" class="t"/><path d="M466 1196 L490 1196 L490 1230 L466 1230 Z" class="t"/>
<rect x="494" y="955" width="151" height="284"/>
<rect x="491" y="973" width="153" height="244" rx="3"/>
<rect x="496" y="978" width="143" height="234" class="t"/>
<circle cx="497" cy="979" r="3"/><circle cx="638" cy="979" r="3"/><circle cx="497" cy="1211" r="3"/><circle cx="638" cy="1211" r="3"/>
<circle cx="492" cy="1095" r="3"/><circle cx="644" cy="1095" r="3"/>
<rect x="535" y="1022" width="66" height="150"/>
<rect x="588" y="939" width="63" height="16" rx="2"/><rect x="592" y="941" width="55" height="14" class="t"/>
<rect x="588" y="1239" width="63" height="16" rx="2"/><rect x="592" y="1239" width="55" height="14" class="t"/>
<rect x="645" y="957" width="53" height="280"/>
<line x1="674" y1="957" x2="674" y2="1237" class="t"/><line x1="676" y1="957" x2="676" y2="1237" class="t"/>
<g class="t">
<path d="M650 960 L650 1000 Q660 1008 670 1000 L670 960"/><path d="M650 1012 L650 1072 Q660 1080 670 1072 L670 1012"/>
<path d="M650 1125 L650 1185 Q660 1193 670 1185 L670 1125"/><path d="M650 1195 L650 1232 Q660 1238 670 1232 L670 1195"/>
<line x1="645" y1="1060" x2="698" y2="1060"/><line x1="645" y1="1130" x2="698" y2="1130"/>
</g>
<!-- SV plan -->
<rect x="724" y="948" width="71" height="12"/>
<rect x="712" y="957" width="16" height="15" class="t"/><rect x="792" y="957" width="18" height="15" class="t"/>
<rect x="697" y="972" width="125" height="33"/>
<line x1="728" y1="972" x2="728" y2="1005" class="t"/><line x1="792" y1="972" x2="792" y2="1005" class="t"/>
<rect x="697" y="1005" width="125" height="30"/>
<line x1="728" y1="1005" x2="728" y2="1035" class="t"/><line x1="792" y1="1005" x2="792" y2="1035" class="t"/>
<rect x="692" y="1035" width="5" height="122" class="t"/>
<rect x="697" y="1035" width="125" height="122" rx="6"/>
<circle cx="760" cy="1097" r="50" class="t"/>
<path d="M740 1035 Q760 1048 780 1035" class="t"/>
<path d="M743 1157 L743 1125 Q760 1115 777 1125 L777 1157" />
<polygon points="766,1140 763,1146 757,1146 754,1140 757,1134 763,1134" class="t"/>
<g>
<circle cx="714" cy="1052" r="13" class="w"/><circle cx="714" cy="1052" r="9" class="t"/><polygon points="721,1052 717,1058 711,1058 707,1052 711,1046 717,1046"/>
<circle cx="801" cy="1052" r="13" class="w"/><circle cx="801" cy="1052" r="9" class="t"/><polygon points="808,1052 804,1058 798,1058 794,1052 798,1046 804,1046"/>
<circle cx="714" cy="1141" r="13" class="w"/><circle cx="714" cy="1141" r="9" class="t"/><polygon points="721,1141 717,1147 711,1147 707,1141 711,1135 717,1135"/>
<circle cx="801" cy="1141" r="13" class="w"/><circle cx="801" cy="1141" r="9" class="t"/><polygon points="808,1141 804,1147 798,1147 794,1141 798,1135 804,1135"/>
</g>
<rect x="822" y="1050" width="8" height="20"/><rect x="822" y="1088" width="8" height="10"/><rect x="822" y="1122" width="8" height="20"/>
<rect x="702" y="1157" width="45" height="30" class="t"/>
<path d="M702 1157 L702 1237 L740 1237"/>
<rect x="740" y="1160" width="48" height="43"/>
<rect x="744" y="1203" width="29" height="53"/>
<rect x="748" y="1203" width="22" height="12" class="t"/>
<path d="M788 1160 Q800 1175 794 1210 L788 1215" class="t"/>
<rect x="792" y="1188" width="8" height="18" class="t"/><rect x="792" y="1222" width="8" height="18" class="t"/>

<!-- ================= MOUNT DETAIL ================= -->
<rect x="1245" y="935" width="41" height="17" rx="4"/>
<line x1="1253" y1="935" x2="1253" y2="952" class="t"/><line x1="1278" y1="935" x2="1278" y2="952" class="t"/>
<path d="M1253 939 Q1265 935 1278 939 M1253 948 Q1265 952 1278 948" class="t"/>
<rect x="1153" y="983" width="102" height="16" fill="url(#h)"/>
<rect x="1255" y="983" width="27" height="16"/>
<rect x="1282" y="983" width="21" height="16" fill="url(#h)"/>
<rect x="1256" y="1021" width="25" height="47" class="w"/>
<line x1="1260" y1="1021" x2="1260" y2="1068" class="t"/><line x1="1277" y1="1021" x2="1277" y2="1068" class="t"/>
<rect x="1235" y="1068" width="63" height="64" fill="#b4b4b4"/>
<line x1="1235" y1="1107" x2="1298" y2="1107"/>
<rect x="1256" y="1132" width="25" height="49"/>
<line x1="1260" y1="1132" x2="1260" y2="1181" class="t"/><line x1="1277" y1="1132" x2="1277" y2="1181" class="t"/>
<rect x="1210" y="1197" width="45" height="8" fill="url(#h)"/>
<rect x="1255" y="1197" width="27" height="8"/>
<rect x="1282" y="1197" width="46" height="8" fill="url(#h)"/>
<rect x="1245" y="1212" width="41" height="21" rx="4"/>
<line x1="1253" y1="1212" x2="1253" y2="1233" class="t"/><line x1="1278" y1="1212" x2="1278" y2="1233" class="t"/>
<path d="M1253 1216 Q1265 1212 1278 1216 M1253 1229 Q1265 1233 1278 1229" class="t"/>
<line x1="1281" y1="1020" x2="1333" y2="1020" class="t"/>
<line x1="1308" y1="1068" x2="1333" y2="1068" class="t"/>
<line x1="1308" y1="1132" x2="1333" y2="1132" class="t"/>
<line x1="1281" y1="1181" x2="1333" y2="1181" class="t"/>
<line x1="1327" y1="1020" x2="1327" y2="1068" marker-start="url(#ar)" marker-end="url(#ar)" class="t"/>
<line x1="1327" y1="1068" x2="1327" y2="1132" marker-start="url(#ar)" marker-end="url(#ar)" class="t"/>
<line x1="1327" y1="1132" x2="1327" y2="1181" marker-start="url(#ar)" marker-end="url(#ar)" class="t"/>
<line x1="1167" y1="1054" x2="1256" y2="1054" marker-end="url(#ar)" class="t"/>
<line x1="1300" y1="1054" x2="1281" y2="1054" marker-end="url(#ar)" class="t"/>
<line x1="1167" y1="1107" x2="1235" y2="1107" marker-end="url(#ar)" class="t"/>
<line x1="1316" y1="1107" x2="1298" y2="1107" marker-end="url(#ar)" class="t"/>
<line x1="1167" y1="1166" x2="1256" y2="1166" marker-end="url(#ar)" class="t"/>
<line x1="1300" y1="1166" x2="1281" y2="1166" marker-end="url(#ar)" class="t"/>
</g>

<!-- ================= TEXT ================= -->
<text x="45" y="142" class="lb" textLength="58" lengthAdjust="spacingAndGlyphs">DV</text>
<text x="168" y="126" class="dm" style="font-size:28px">L</text>
<text x="689" y="30" class="dm" style="font-size:28px">F</text>
<text x="858" y="37" class="lb">SV</text>
<text x="875" y="270" class="lb">2</text>
<text x="455" y="352" class="lb">2</text>
<text x="452" y="459" class="lb">4</text>
<text x="880" y="479" class="lb">12</text>
<text transform="translate(31,395) rotate(-90)" class="dm">M</text>
<text transform="translate(914,340) rotate(-90)" class="dm">G</text>
<text x="160" y="661" class="dm">139</text>
<text x="403" y="662" class="dm">D</text>
<text x="437" y="716" class="dm">A</text>

<text x="1045" y="256" class="lb">7</text>
<text x="1455" y="260" class="lb">7</text>
<text x="1147" y="364" class="lb">8</text>
<text x="1370" y="357" class="lb">1</text>
<text x="1072" y="494" class="lb">12</text>
<text x="1330" y="461" class="lb">3</text>
<text x="1430" y="486" class="lb">9</text>
<text x="1512" y="490" class="lb">15</text>
<text x="1512" y="534" class="lb">10</text>
<text x="1075" y="578" class="dm">Ø11</text>
<text x="1203" y="624" class="lb">5</text>
<text x="1250" y="624" class="lb">11</text>
<text x="1298" y="634" class="lb">6</text>
<text transform="translate(1443,606) rotate(-90)" class="dm">31</text>
<text x="1083" y="663" class="dm">103</text>
<text x="1252" y="663" class="dm">E</text>
<text x="1255" y="713" class="dm">B</text>
<text transform="translate(1553,333) rotate(-90)" class="dm">C</text>

<text x="140" y="870" class="lb">NP</text>
<text transform="translate(34,1053) rotate(-90)" class="dm">N</text>
<text transform="translate(891,1022) rotate(-90)" class="dm">H</text>
<text x="40" y="1205" class="lb" textLength="56" lengthAdjust="spacingAndGlyphs">DV</text>
<text x="76" y="1322" class="lb">14</text>
<text x="925" y="1200" class="lb">SV</text>

<text x="1218" y="1047" class="dm" style="font-size:31px">M10</text>
<text x="1347" y="1048" class="dm" style="font-size:31px">29</text>
<text x="1208" y="1103" class="dm" style="font-size:31px">50</text>
<text x="1347" y="1103" class="dm" style="font-size:31px">40</text>
<text x="1218" y="1158" class="dm" style="font-size:31px">M10</text>
<text x="1347" y="1159" class="dm" style="font-size:31px">29</text>
</svg>
</body></html>
